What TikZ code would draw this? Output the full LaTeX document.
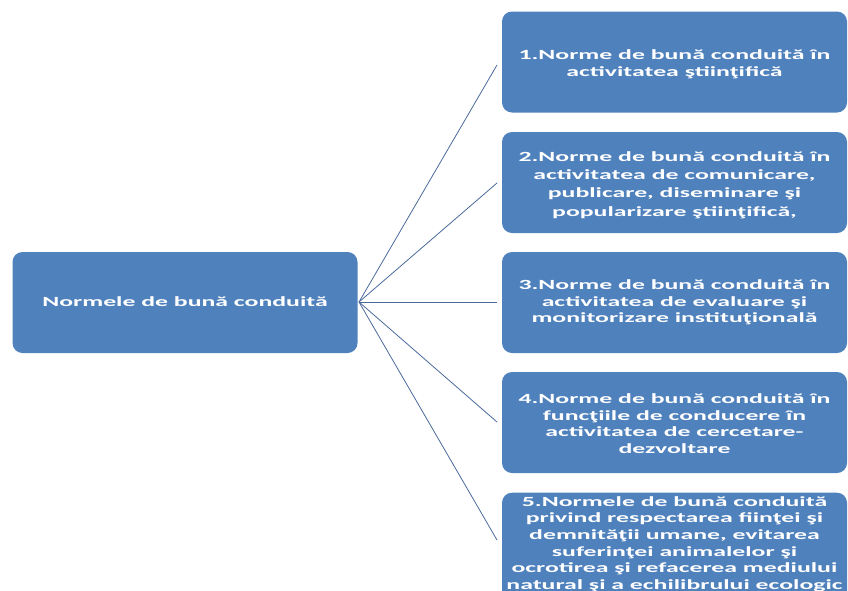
\documentclass[tikz,border=0pt]{standalone}
\usepackage{fontspec}
\setmainfont{Carlito}[FakeStretch=1.84]
\definecolor{boxblue}{HTML}{4F81BD}
\definecolor{linkblue}{HTML}{4A6A9A}
\begin{document}
\begin{tikzpicture}[x=1pt,y=-1pt,
  nbox/.style={fill=boxblue, draw=none, rounded corners=10pt, minimum width=345pt, minimum height=101pt, inner sep=0pt},
  ntext/.style={text=white, font=\fontsize{14}{17}\selectfont\bfseries, align=center},
  link/.style={draw=linkblue, line width=0.8pt}]
\useasboundingbox (0,0) rectangle (848,590);
\node[nbox] (root) at (185,302.5) {};
\node[ntext] (t0) at (185,301.5) {Normele de bună conduită};
\node[nbox] (b1) at (674.5,62) {};
\node[ntext] (t1) at (674.5,64) {1.Norme de bună conduită în\\activitatea ştiinţifică};
\node[nbox] (b2) at (674.5,182.5) {};
\node[ntext, font=\fontsize{14}{18.2}\selectfont\bfseries] (t2) at (674.5,185) {2.Norme de bună conduită în\\activitatea de comunicare,\\publicare, diseminare şi\\popularizare ştiinţifică,};
\node[nbox] (b3) at (674.5,302.5) {};
\node[ntext, font=\fontsize{14}{16.6}\selectfont\bfseries] (t3) at (674.5,302.5) {3.Norme de bună conduită în\\activitatea de evaluare şi\\monitorizare instituţională};
\node[nbox] (b4) at (674.5,422.5) {};
\node[ntext, font=\fontsize{14}{16.6}\selectfont\bfseries] (t4) at (674.5,423.5) {4.Norme de bună conduită în\\funcţiile de conducere în\\activitatea de cercetare-\\dezvoltare};
\node[nbox, minimum height=110pt, anchor=north] (b5) at (674.5,492.5) {};
\node[ntext, font=\fontsize{14}{16.6}\selectfont\bfseries, anchor=north] (t5) at (674.5,493) {5.Normele de bună conduită\\privind respectarea fiinţei şi\\demnităţii umane, evitarea\\suferinţei animalelor şi\\ocrotirea şi refacerea mediului\\natural şi a echilibrului ecologic};
\coordinate (hub) at (359,302);
\coordinate (e1) at (497,65);
\coordinate (e2) at (497,183);
\coordinate (e3) at (497,302);
\coordinate (e4) at (497,422);
\coordinate (e5) at (497,540);
\foreach \e in {e1,e2,e3,e4,e5} \draw[link] (hub) -- (\e);
\end{tikzpicture}
\end{document}
